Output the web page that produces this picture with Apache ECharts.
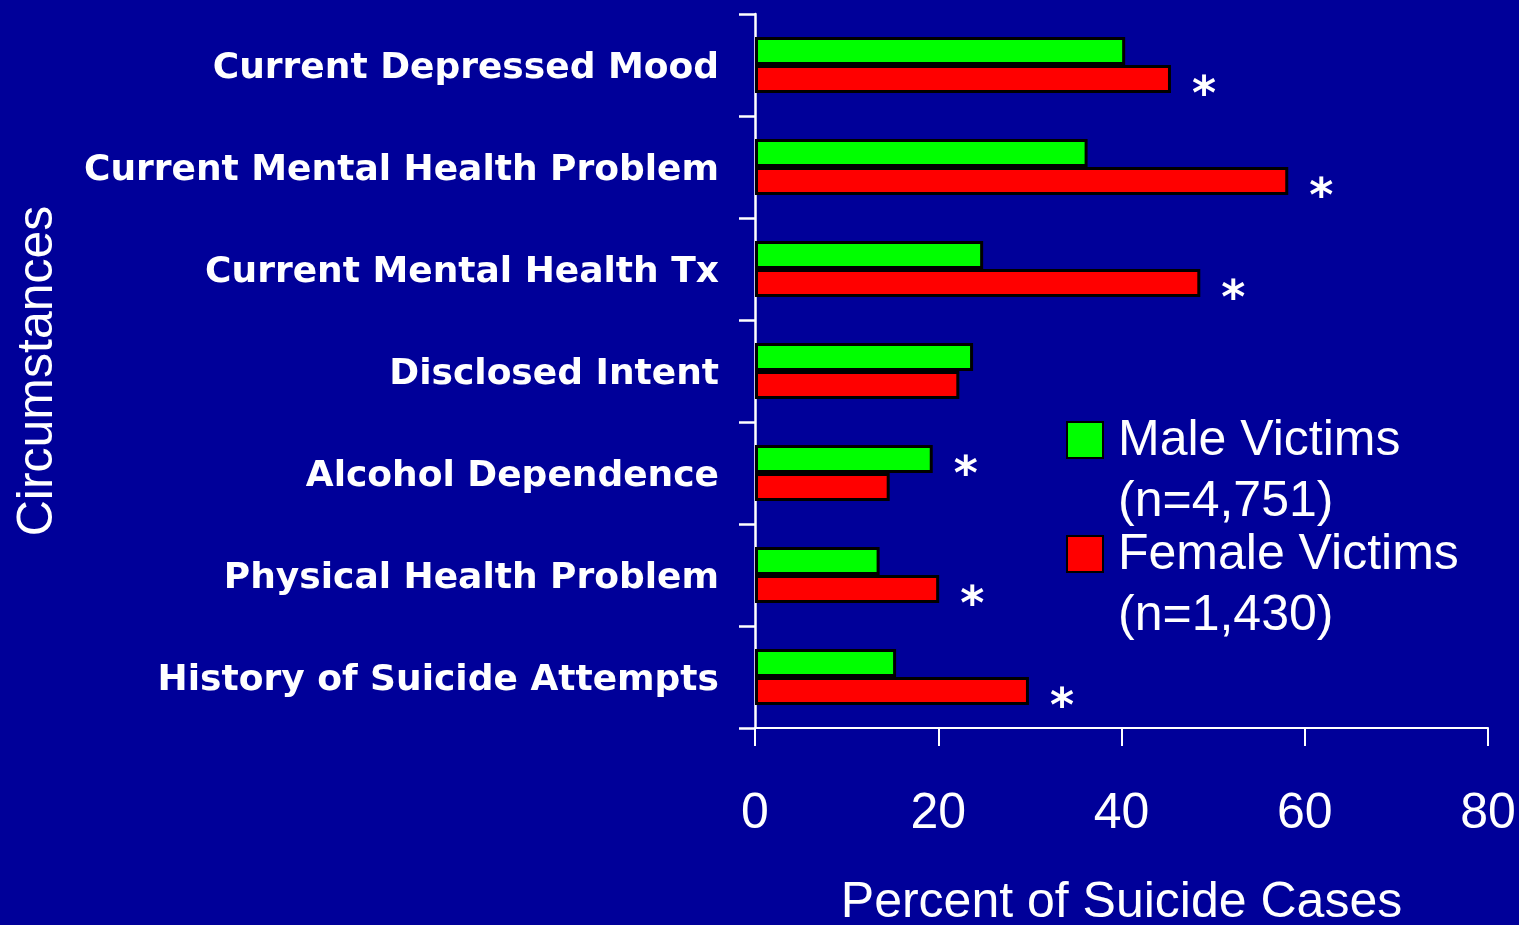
<!DOCTYPE html>
<html>
<head>
<meta charset="utf-8">
<script src="https://cdn.jsdelivr.net/npm/echarts@6/dist/echarts.min.js"></script>
<style>
  html, body { margin: 0; padding: 0; background: #000099; }
  #chart { width: 1519px; height: 925px; }
</style>
</head>
<body>
<div id="chart"></div>
<script>
// Circumstances preceding suicide, by sex of victim (percent of cases)
var categories = [
  'Current Depressed Mood',
  'Current Mental Health Problem',
  'Current Mental Health Tx',
  'Disclosed Intent',
  'Alcohol Dependence',
  'Physical Health Problem',
  'History of Suicide Attempts'
];
var maleValues   = [40.4, 36.3, 24.9, 23.8, 19.4, 13.6, 15.4];
var femaleValues = [45.4, 58.2, 48.6, 22.3, 14.7, 20.1, 29.9];
// significant difference marker: which series carries the asterisk
var maleSignificant   = [false, false, false, false, true,  false, false];
var femaleSignificant = [true,  true,  true,  false, false, true,  true];
var seriesNames = ['Male Victims', 'Female Victims'];
var seriesCounts = ['(n=4,751)', '(n=1,430)'];
var xTicks = { min: 0, max: 80, interval: 20 };

var thinFont = '"Liberation Sans", Arial, sans-serif';
var boldFont = '"DejaVu Sans", Verdana, sans-serif';

function buildData(values, flags) {
  return values.map(function (v, i) {
    return {
      value: v,
      label: { show: flags[i] }
    };
  });
}

var starLabel = {
  show: false,
  position: 'right',
  distance: 21,
  formatter: '*',
  color: '#ffffff',
  fontFamily: boldFont,
  fontWeight: 'bold',
  fontSize: 46,
  offset: [0, 18]
};

// legend entry: name on the icon's line, sample size on the line below
// (a leading spacer line keeps the name level with the swatch)
function legendFor(idx, top) {
  return {
    data: [seriesNames[idx]],
    left: 1066,
    top: top,
    padding: 0,
    orient: 'vertical',
    icon: 'rect',
    itemWidth: 36,
    itemHeight: 36,
    selectedMode: false,
    formatter: function (name) {
      return '{g| }\n{t|' + name + '}\n{t|' + seriesCounts[idx] + '}';
    },
    textStyle: {
      color: '#ffffff',
      fontFamily: thinFont,
      fontSize: 50,
      padding: [0, 0, 0, 10],
      rich: {
        g: { fontSize: 10, lineHeight: 64 },
        t: { color: '#ffffff', fontFamily: thinFont, fontSize: 50, lineHeight: 61 }
      }
    }
  };
}

var chart = echarts.init(document.getElementById('chart'), null, { renderer: 'canvas' });

chart.setOption({
  backgroundColor: '#000099',
  animation: false,
  grid: {
    left: 755, right: 31, top: 14, bottom: 197,
    containLabel: false,
    outerBoundsMode: 'none'
  },
  legend: [legendFor(0, 374), legendFor(1, 488)],
  xAxis: {
    type: 'value',
    min: xTicks.min,
    max: xTicks.max,
    interval: xTicks.interval,
    name: 'Percent of Suicide Cases',
    nameLocation: 'middle',
    nameGap: 150,
    nameTextStyle: { color: '#ffffff', fontFamily: thinFont, fontSize: 50 },
    axisLine: { show: true, lineStyle: { color: '#ffffff', width: 2 } },
    axisTick: { show: true, length: 18, lineStyle: { color: '#ffffff', width: 2 } },
    splitLine: { show: false },
    axisLabel: { color: '#ffffff', fontFamily: thinFont, fontSize: 50, margin: 61 }
  },
  yAxis: {
    type: 'category',
    inverse: true,
    data: categories,
    name: 'Circumstances',
    nameLocation: 'middle',
    nameRotate: 90,
    nameGap: 692,
    nameTextStyle: { color: '#ffffff', fontFamily: thinFont, fontSize: 50 },
    axisLine: { show: true, lineStyle: { color: '#ffffff', width: 2.5 } },
    axisTick: { show: true, length: 16, lineStyle: { color: '#ffffff', width: 2.5 } },
    splitLine: { show: false },
    axisLabel: {
      color: '#ffffff',
      fontFamily: boldFont,
      fontWeight: 'bold',
      fontSize: 36,
      margin: 36,
      verticalAlign: 'top',
      lineHeight: 8
    }
  },
  series: [
    {
      name: seriesNames[0],
      type: 'bar',
      data: buildData(maleValues, maleSignificant),
      barWidth: 28,
      barGap: '0%',
      itemStyle: { color: '#00ff00', borderColor: '#000000', borderWidth: 3 },
      label: starLabel
    },
    {
      name: seriesNames[1],
      type: 'bar',
      data: buildData(femaleValues, femaleSignificant),
      barWidth: 28,
      barGap: '0%',
      itemStyle: { color: '#ff0000', borderColor: '#000000', borderWidth: 3 },
      label: starLabel
    }
  ]
});
</script>
</body>
</html>
